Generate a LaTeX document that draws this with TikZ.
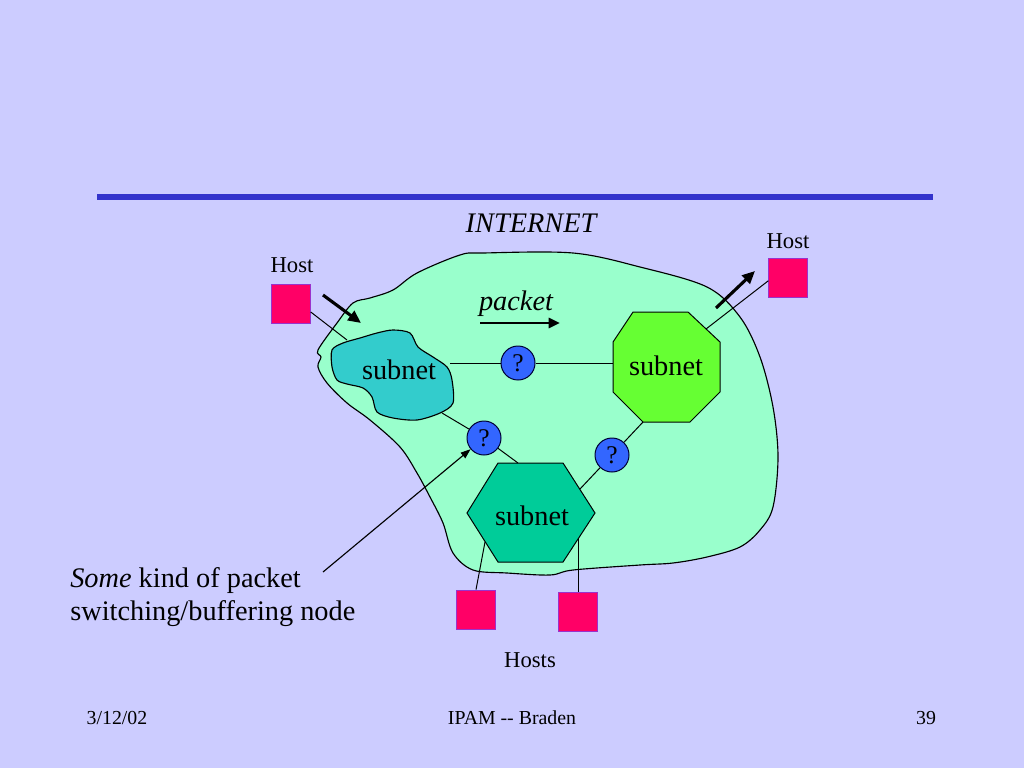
\documentclass[tikz,border=0pt]{standalone}
\usepackage{fontspec}
\setmainfont{Liberation Serif}
\usetikzlibrary{positioning}
\usetikzlibrary{arrows.meta}

\definecolor{slidebg}{RGB}{204,204,255}
\definecolor{rulebl}{RGB}{51,51,204}
\definecolor{cloudgr}{RGB}{153,255,204}
\definecolor{tealnet}{RGB}{51,204,204}
\definecolor{limenet}{RGB}{102,255,51}
\definecolor{seanet}{RGB}{0,204,153}
\definecolor{hostred}{RGB}{255,0,102}
\definecolor{hostrim}{RGB}{153,51,204}
\definecolor{qblue}{RGB}{51,102,255}

\tikzset{
  host/.style={rectangle,draw=hostrim,line width=0.8pt,fill=hostred,minimum width=27pt,minimum height=28pt,inner sep=0pt},
  qnode/.style={circle,draw=black!80!blue,line width=0.7pt,fill=qblue,minimum size=24pt,inner sep=0pt,font=\fontsize{18}{20}\selectfont},
  link/.style={draw=black,line width=0.7pt},
  fatarrow/.style={-{Triangle[length=9pt,width=8pt]},line width=2.2pt},
  thinarrow/.style={-{Triangle[length=7pt,width=5pt]},line width=0.8pt},
  sz14/.style={font=\fontsize{14}{16}\selectfont},
  sz16/.style={font=\fontsize{16}{18}\selectfont},
  sz18/.style={font=\fontsize{18}{20}\selectfont},
  sz20/.style={font=\fontsize{20}{24}\selectfont},
}

\begin{document}
\begin{tikzpicture}[x=0.024805cm,y=-0.024805cm]
\fill[slidebg] (0,0) rectangle (1024,768);
\useasboundingbox (0,0) rectangle (1024,768);

% title rule
\coordinate (ruleL) at (97,197);
\coordinate (ruleR) at (933,197);
\draw[rulebl,line width=4.6pt] (ruleL) -- (ruleR);

% the internet cloud
\draw[fill=cloudgr,line width=0.8pt] plot[smooth cycle,tension=0.55] coordinates {
(318,350) (337,323) (353,303) (370,298) (393,290) (417,273) (460,255) (483,253)
(573,253) (640,267) (707,287) (740,317) (760,357) (773,407) (778,457) (773,507)
(760,530) (740,547) (707,557) (673,563) (640,565) (573,570) (550,575) (507,573)
(473,570) (453,553) (443,523) (430,497) (417,473) (400,447) (370,420) (347,403)
(327,383) (318,367) (321,357)};

% subnet 1 (blob)
\draw[fill=tealnet,line width=0.8pt] plot[smooth cycle,tension=0.5] coordinates {
(332,350) (343,343) (360,338) (377,333) (393,330) (410,333) (418,347) (433,357)
(447,367) (452,380) (453,403) (440,413) (417,420) (393,418) (377,412) (372,397)
(363,388) (347,384) (337,380) (332,367)};
\node[sz20] (blobnet) at (399,370) {subnet};
\coordinate (blobE) at (450,363);
\coordinate (blobS) at (442,413);
\coordinate (blobNW) at (347,340);

% subnet 2 (octagon)
\draw[fill=limenet,line width=0.7pt] (633,312) -- (688,312) -- (720,342) -- (720,392)
  -- (690,422) -- (643,422) -- (613,392) -- (613,342) -- cycle;
\node[sz20] (octnet) at (666,366) {subnet};
\coordinate (octW) at (613,363);
\coordinate (octSW) at (643,422);
\coordinate (octNE) at (706,329);

% subnet 3 (hexagon)
\draw[fill=seanet,line width=0.7pt] (498,463) -- (563,463) -- (595,513) -- (563,562)
  -- (498,562) -- (467,513) -- cycle;
\node[sz20] (hexnet) at (532,516) {subnet};
\coordinate (hexN) at (518,463);
\coordinate (hexNE) at (580,489);
\coordinate (hexSW) at (485,542);
\coordinate (hexSE) at (578,539);

% switching nodes
\node[qnode] (q1) at (518,363) {?};
\node[qnode] (q2) at (484,438) {?};
\node[qnode] (q3) at (612,455) {?};

% hosts
\node[host] (hostL) at (291,304) {};
\node[host] (hostR) at (788,278) {};
\node[host] (hostB) at (476,610) {};
\node[host] (hostC) at (578,612) {};

% links
\draw[link] (blobE) -- (q1) -- (octW);
\draw[link] (blobS) -- (q2) -- (hexN);
\draw[link] (hexNE) -- (q3) -- (octSW);
\draw[link] (octNE) -- (hostR.188);
\draw[link] (hostL.-22) -- (blobNW);
\draw[link] (hexSW) -- (hostB.north);
\draw[link] (hexSE) -- (hostC.north);

% packet flow
\coordinate (inS) at (323,295);
\coordinate (inE) at (361,323);
\draw[fatarrow] (inS) -- (inE);
\coordinate (outS) at (716,308);
\coordinate (outE) at (755,271);
\draw[fatarrow] (outS) -- (outE);
\coordinate (pktS) at (480,323);
\coordinate (pktE) at (560,323);
\draw[fatarrow,-{Triangle[length=8pt,width=7pt]},line width=2pt] (pktS) -- (pktE);

% labels
\node[sz20] (inet) at (531,223) {\itshape INTERNET};
\node[sz20] (pkt) at (516,304) {\itshape packet};
\node[sz16] (hostLtxt) at (292,265) {Host};
\node[sz16] (hostRtxt) at (788,241) {Host};
\node[sz16] (hoststxt) at (530,660) {Hosts};

\node[sz20,anchor=base west,inner sep=0pt] (note1) at (70,587) {\textit{Some} kind of packet};
\node[sz20,anchor=base west,inner sep=0pt] (note2) at (70,620) {switching/buffering node};
\coordinate (noteS) at (323,572);
\draw[thinarrow] (noteS) -- (q2);

% footer
\node[sz14] (date) at (117,718) {3/12/02};
\node[sz14] (who) at (512,718) {IPAM -{}- Braden};
\node[sz14] (pageno) at (926,718) {39};

\end{tikzpicture}
\end{document}
